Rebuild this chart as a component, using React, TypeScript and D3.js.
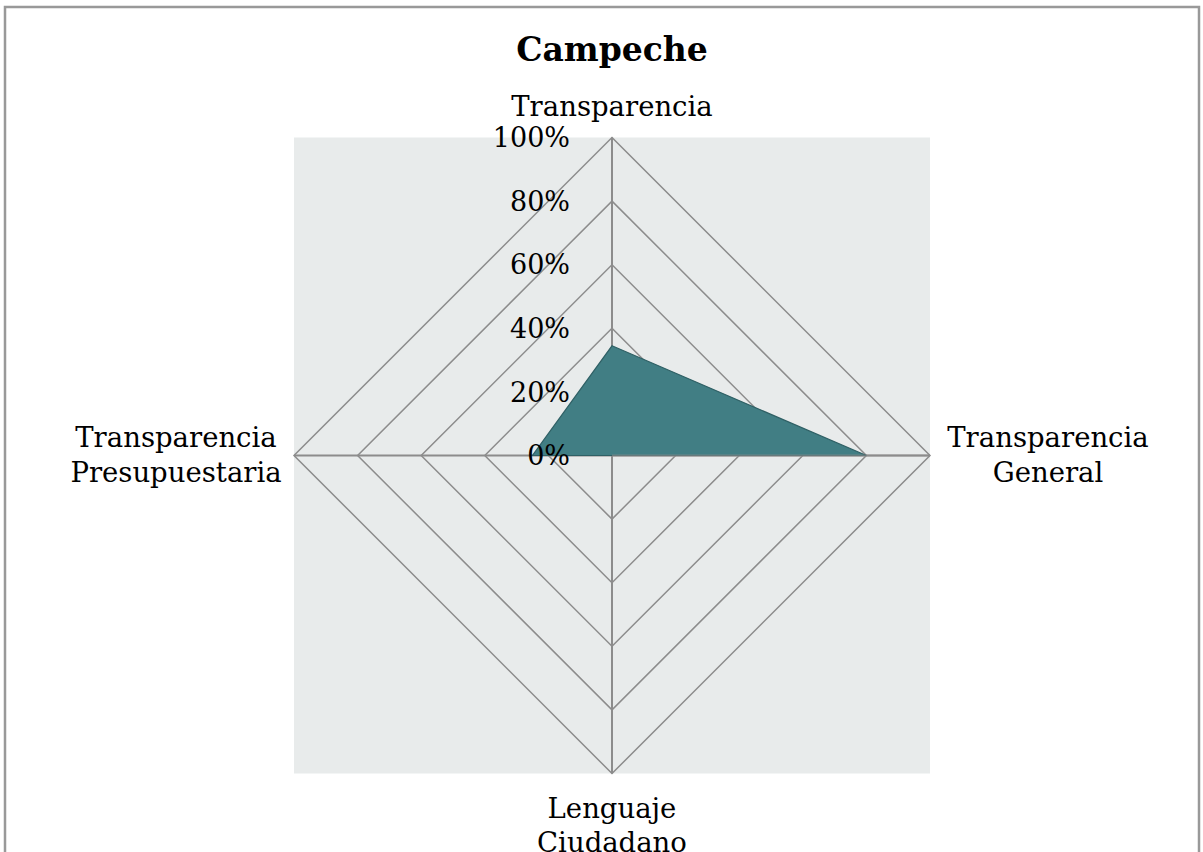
import React from "react";
import * as d3 from "d3";

const categories: string[][] = [
  ["Transparencia"],
  ["Transparencia", "General"],
  ["Lenguaje", "Ciudadano"],
  ["Transparencia", "Presupuestaria"],
];
const values: number[] = [0.345, 0.8, 0, 0.25];
const ticks: number[] = [0, 0.2, 0.4, 0.6, 0.8, 1.0];
const tickLabels: string[] = ["0%", "20%", "40%", "60%", "80%", "100%"];
const title = "Campeche";

const W = 1203;
const H = 852;
const cx = 612;
const cy = 455.5;
const R = 318;
const FONT = "'DejaVu Serif', Georgia, serif";

export default function App() {
  const r = d3.scaleLinear().domain([0, 1]).range([0, R]);
  const n = categories.length;
  const angle = (i: number) => (i / n) * 2 * Math.PI; // 0 = up, clockwise
  const pt = (i: number, v: number): [number, number] => [
    cx + r(v) * Math.sin(angle(i)),
    cy - r(v) * Math.cos(angle(i)),
  ];
  const line = d3.line<[number, number]>().curve(d3.curveLinearClosed);

  const gridPolys = ticks
    .filter((t) => t > 0)
    .map((t) => line(d3.range(n).map((i) => pt(i, t))) as string);
  const dataPath = line(values.map((v, i) => pt(i, v))) as string;

  const labelOffset = 118;
  const lineH = 34.5;

  return (
    <svg
      width={W}
      height={H}
      style={{ position: "absolute", left: 0, top: 0, background: "#fff" }}
      fontFamily={FONT}
    >
      <rect x={5} y={7} width={1194} height={900} fill="#fff" stroke="#999" strokeWidth={2.5} />
      <text x={cx} y={61} textAnchor="middle" fontSize={33} fontWeight="bold" fill="#000">
        {title}
      </text>
      <rect x={cx - R} y={cy - R} width={2 * R} height={2 * R} fill="#e8ebeb" />
      {gridPolys.map((d, k) => (
        <path key={k} d={d} fill="none" stroke="#8c8c8c" strokeWidth={1.5} />
      ))}
      {d3.range(n).map((i) => {
        const [x, y] = pt(i, 1);
        return <line key={i} x1={cx} y1={cy} x2={x} y2={y} stroke="#8c8c8c" strokeWidth={2} />;
      })}
      <path d={dataPath} fill="#417e84" stroke="#2f6065" strokeWidth={1.2} />
      <line x1={cx} y1={cy} x2={pt(1, 1)[0]} y2={cy} stroke="#8c8c8c" strokeWidth={2} opacity={0.6} />
      {ticks.map((t, k) => (
        <text
          key={k}
          x={cx - 42}
          y={cy - r(t)}
          dy="0.36em"
          textAnchor="end"
          fontSize={27}
          fill="#000"
        >
          {tickLabels[k]}
        </text>
      ))}
      {categories.map((lines, i) => {
        const [vx, vy] = pt(i, 1);
        const sx = Math.sin(angle(i));
        const sy = -Math.cos(angle(i));
        let x = vx;
        let y0 = vy;
        if (Math.abs(sy) > 0.5) {
          if (sy < 0) {
            y0 = vy - 22 - (lines.length - 1) * lineH;
          } else {
            y0 = vy + 44;
          }
        } else {
          x = vx + sx * labelOffset;
          y0 = vy - 8.5;
        }
        return (
          <text key={i} x={x} y={y0} textAnchor="middle" fontSize={27.5} fill="#000">
            {lines.map((s, j) => (
              <tspan key={j} x={x} y={y0 + j * lineH}>
                {s}
              </tspan>
            ))}
          </text>
        );
      })}
    </svg>
  );
}
